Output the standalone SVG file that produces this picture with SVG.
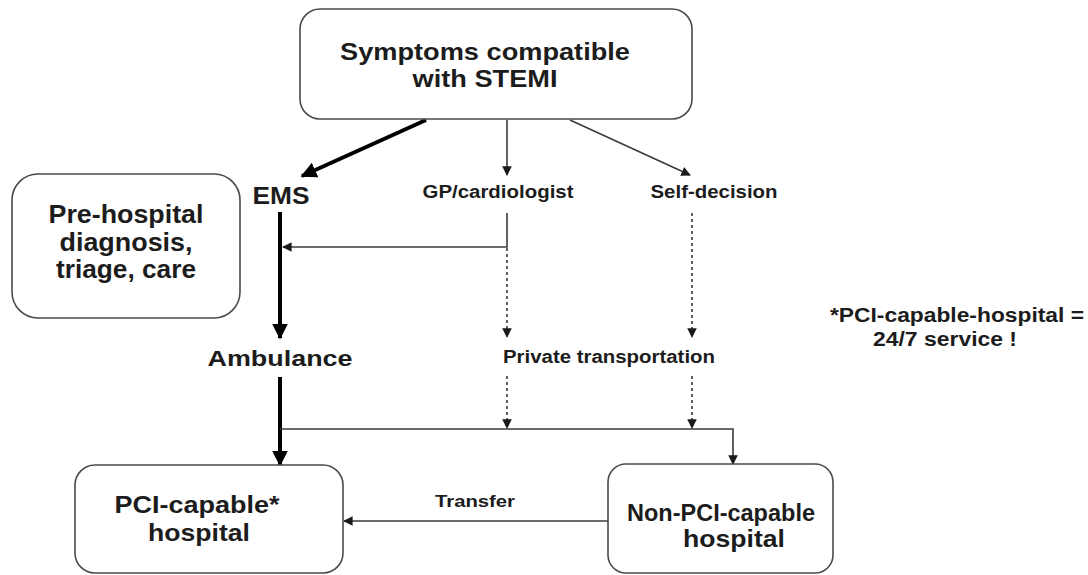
<svg xmlns="http://www.w3.org/2000/svg" width="1088" height="575" viewBox="0 0 1088 575">
  <defs>
    <style>
      .box { fill: #ffffff; stroke: #4a4a4a; stroke-width: 1.6; }
      .lbl { font-family: "Liberation Sans", Arial, sans-serif; font-weight: bold; fill: #1c1c1c; text-anchor: middle; }
      .thick { stroke: #000000; stroke-width: 4; fill: none; }
      .thin { stroke: #3a3a3a; stroke-width: 1.6; fill: none; }
      .dash { stroke: #3a3a3a; stroke-width: 1.6; fill: none; stroke-dasharray: 3 3; }
    </style>
    <marker id="headBig" viewBox="0 0 10 10" refX="9" refY="5" markerWidth="4" markerHeight="4" orient="auto" markerUnits="strokeWidth">
      <path d="M0,0 L10,5 L0,10 Z" fill="#000000"/>
    </marker>
    <marker id="headSmall" viewBox="0 0 10 10" refX="9" refY="5" markerWidth="6" markerHeight="6" orient="auto" markerUnits="strokeWidth">
      <path d="M0,0 L10,5 L0,10 Z" fill="#1a1a1a"/>
    </marker>
  </defs>

  <rect width="1088" height="575" fill="#ffffff"/>

  <!-- connectors -->
  <g id="connectors">
    <!-- from symptoms -->
    <line class="thick" x1="426" y1="120" x2="302" y2="176" marker-end="url(#headBig)"/>
    <line class="thin" x1="507" y1="120" x2="507" y2="175" marker-end="url(#headSmall)"/>
    <line class="thin" x1="570" y1="120" x2="690" y2="175" marker-end="url(#headSmall)"/>
    <!-- EMS to ambulance -->
    <line class="thick" x1="280" y1="212" x2="280" y2="338" marker-end="url(#headBig)"/>
    <!-- GP calls EMS -->
    <polyline class="thin" points="507,213 507,247 283,247" marker-end="url(#headSmall)"/>
    <!-- private transportation legs -->
    <line class="dash" x1="507" y1="248" x2="507" y2="337" marker-end="url(#headSmall)"/>
    <line class="dash" x1="692" y1="213" x2="692" y2="337" marker-end="url(#headSmall)"/>
    <line class="dash" x1="507" y1="376" x2="507" y2="428" marker-end="url(#headSmall)"/>
    <line class="dash" x1="692" y1="376" x2="692" y2="428" marker-end="url(#headSmall)"/>
    <!-- ambulance to PCI hospital -->
    <line class="thick" x1="280" y1="377" x2="280" y2="465" marker-end="url(#headBig)"/>
    <!-- branch to non-PCI hospital -->
    <polyline class="thin" points="280,429 733,429 733,464" marker-end="url(#headSmall)"/>
    <!-- transfer -->
    <line class="thin" x1="608" y1="521" x2="344" y2="521" marker-end="url(#headSmall)"/>
  </g>

  <g id="symptoms">
    <rect class="box" x="300" y="9" width="392" height="110" rx="20"/>
    <text class="lbl" x="485" y="60" font-size="24" textLength="290" lengthAdjust="spacingAndGlyphs">Symptoms compatible</text>
    <text class="lbl" x="485" y="87" font-size="24" textLength="145" lengthAdjust="spacingAndGlyphs">with STEMI</text>
  </g>

  <g id="ems">
    <text class="lbl" x="281" y="204" font-size="23" textLength="57" lengthAdjust="spacingAndGlyphs">EMS</text>
  </g>

  <g id="gp">
    <text class="lbl" x="498" y="198" font-size="18" textLength="151" lengthAdjust="spacingAndGlyphs">GP/cardiologist</text>
  </g>

  <g id="self">
    <text class="lbl" x="714" y="198" font-size="18" textLength="127" lengthAdjust="spacingAndGlyphs">Self-decision</text>
  </g>

  <g id="prehospital">
    <rect class="box" x="12" y="174" width="228" height="144" rx="26"/>
    <text class="lbl" x="126" y="223" font-size="25" textLength="155" lengthAdjust="spacingAndGlyphs">Pre-hospital</text>
    <text class="lbl" x="126" y="251" font-size="25" textLength="133" lengthAdjust="spacingAndGlyphs">diagnosis,</text>
    <text class="lbl" x="126" y="278" font-size="25" textLength="140" lengthAdjust="spacingAndGlyphs">triage, care</text>
  </g>

  <g id="ambulance">
    <text class="lbl" x="280" y="366" font-size="22" textLength="145" lengthAdjust="spacingAndGlyphs">Ambulance</text>
  </g>

  <g id="private">
    <text class="lbl" x="609" y="363" font-size="18" textLength="212" lengthAdjust="spacingAndGlyphs">Private transportation</text>
  </g>

  <g id="pci">
    <rect class="box" x="75" y="465" width="268" height="108" rx="20"/>
    <text class="lbl" x="197" y="513" font-size="24" textLength="165" lengthAdjust="spacingAndGlyphs">PCI-capable*</text>
    <text class="lbl" x="199" y="541" font-size="24" textLength="102" lengthAdjust="spacingAndGlyphs">hospital</text>
  </g>

  <g id="transfer">
    <text class="lbl" x="475" y="507" font-size="17" textLength="80" lengthAdjust="spacingAndGlyphs">Transfer</text>
  </g>

  <g id="nonpci">
    <rect class="box" x="608" y="464" width="225" height="109" rx="18"/>
    <text class="lbl" x="721" y="521" font-size="24" textLength="188" lengthAdjust="spacingAndGlyphs">Non-PCI-capable</text>
    <text class="lbl" x="734" y="547" font-size="24" textLength="102" lengthAdjust="spacingAndGlyphs">hospital</text>
  </g>

  <g id="note">
    <text class="lbl" x="957" y="322" font-size="20" textLength="254" lengthAdjust="spacingAndGlyphs">*PCI-capable-hospital =</text>
    <text class="lbl" x="945" y="346" font-size="20" textLength="144" lengthAdjust="spacingAndGlyphs">24/7 service !</text>
  </g>
</svg>
